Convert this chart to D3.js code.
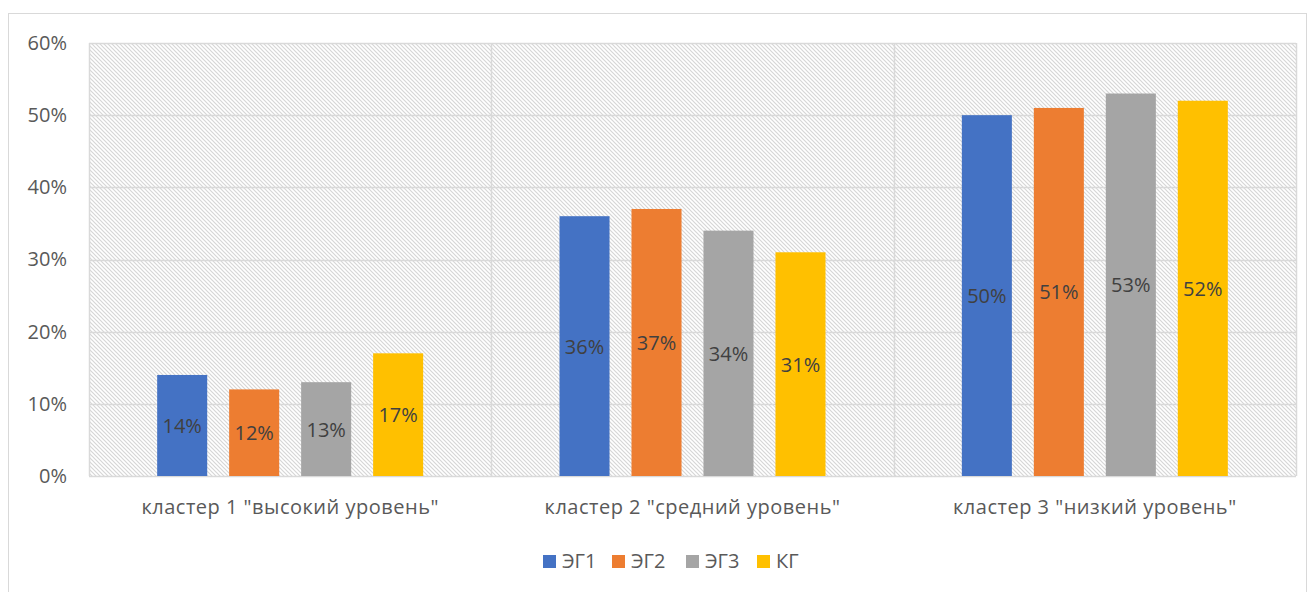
<!DOCTYPE html>
<html><head><meta charset="utf-8">
<script src="https://cdn.jsdelivr.net/npm/d3@7"></script>
<style>body{margin:0;background:#fff}svg{display:block}text{font-family:"Open Sans",sans-serif}</style>
</head><body><svg id="c" width="1314" height="592"></svg>
<script>
const categories = ['кластер 1 "высокий уровень"', 'кластер 2 "средний уровень"', 'кластер 3 "низкий уровень"'];
const seriesNames = ["ЭГ1", "ЭГ2", "ЭГ3", "КГ"];
const seriesColors = ["#4472c4", "#ed7d31", "#a5a5a5", "#ffc000"];
const eg1 = [14, 36, 50];
const eg2 = [12, 37, 51];
const eg3 = [13, 34, 53];
const kg = [17, 31, 52];
const yTicks = [0, 10, 20, 30, 40, 50, 60];

const values = [eg1, eg2, eg3, kg];
const svg = d3.select("#c");
const m = {l: 89, r: 1296, t: 43, b: 476};

// chart frame
svg.append("rect").attr("x", 8.5).attr("y", 13.5).attr("width", 1298).attr("height", 590)
  .attr("fill", "#fff").attr("stroke", "#d9d9d9");

// hatched plot background
const defs = svg.append("defs");
const pat = defs.append("pattern").attr("id", "hatch").attr("width", 4).attr("height", 4)
  .attr("patternUnits", "userSpaceOnUse");
pat.append("rect").attr("width", 4).attr("height", 4).attr("fill", "#fff");
pat.append("path").attr("d", "M-1,-1L5,5M-1,3L1,5M3,-1L5,1").attr("stroke", "#d6d6d6").attr("stroke-width", 1.2);
svg.append("rect").attr("x", m.l).attr("y", m.t).attr("width", m.r - m.l).attr("height", m.b - m.t)
  .attr("fill", "url(#hatch)");

const x0 = d3.scaleBand().domain(categories).range([m.l, m.r]);
const x1 = d3.scaleBand().domain(seriesNames).range([0, x0.bandwidth()]).paddingInner(0.305).paddingOuter(0.947);
const y = d3.scaleLinear().domain([0, 60]).range([m.b, m.t]);

// horizontal gridlines
svg.append("g").selectAll("line").data(yTicks).join("line")
  .attr("x1", m.l).attr("x2", m.r).attr("y1", d => Math.round(y(d)) + 0.5).attr("y2", d => Math.round(y(d)) + 0.5)
  .attr("stroke", "#d9d9d9").attr("stroke-width", 1.5);
// category dividers and plot edges
svg.append("g").selectAll("line").data(d3.range(categories.length + 1)).join("line")
  .attr("x1", i => Math.round(m.l + i * x0.step()) + 0.5).attr("x2", i => Math.round(m.l + i * x0.step()) + 0.5)
  .attr("y1", m.t).attr("y2", m.b).attr("stroke", "#d9d9d9").attr("stroke-width", 1.5);

// y axis labels
const yAxis = d3.axisLeft(y).tickValues(yTicks).tickFormat(d => d + "%").tickSize(0).tickPadding(22);
const ga = svg.append("g").attr("transform", `translate(${m.l},0)`).call(yAxis);
ga.select(".domain").remove();
ga.selectAll("text").attr("font-size", 20).attr("fill", "#595959").attr("font-family", "'Open Sans',sans-serif");

// bars
const groups = svg.append("g").selectAll("g").data(categories).join("g")
  .attr("transform", d => `translate(${x0(d)},0)`);
groups.each(function(cat, ci) {
  const g = d3.select(this);
  seriesNames.forEach((s, si) => {
    const v = values[si][ci];
    g.append("rect").attr("x", x1(s)).attr("width", x1.bandwidth())
      .attr("y", y(v)).attr("height", y(0) - y(v)).attr("fill", seriesColors[si]);
    g.append("text").attr("x", x1(s) + x1.bandwidth() / 2).attr("y", (y(v) + y(0)) / 2)
      .attr("text-anchor", "middle").attr("dominant-baseline", "central")
      .attr("font-size", 20).attr("fill", "#404040").text(v + "%");
  });
});

// category labels
svg.append("g").selectAll("text").data(categories).join("text")
  .attr("x", d => x0(d) + x0.bandwidth() / 2).attr("y", 514)
  .attr("text-anchor", "middle").attr("font-size", 20).attr("letter-spacing", 0.5)
  .attr("fill", "#595959").text(d => d);

// legend
const legendX = [543, 612, 686, 757];
const lg = svg.append("g").selectAll("g").data(seriesNames).join("g")
  .attr("transform", (d, i) => `translate(${legendX[i]},555)`);
lg.append("rect").attr("width", 13).attr("height", 13).attr("fill", (d, i) => seriesColors[i]);
lg.append("text").attr("x", 19).attr("y", 13).attr("font-size", 20).attr("fill", "#595959").text(d => d);
</script></body></html>
